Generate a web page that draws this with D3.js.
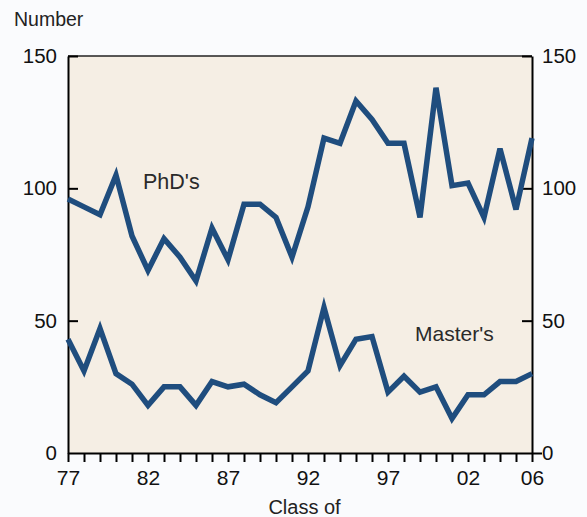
<!DOCTYPE html>
<html>
<head>
<meta charset="utf-8">
<script src="https://d3js.org/d3.v7.min.js"></script>
<style>
  body { margin: 0; background: #fafbfd; }
  text { font-family: "Liberation Sans", Arial, sans-serif; fill: #222; }
</style>
</head>
<body>
<div class="chart"></div>
<script>
// class years and counts
var years = [1977, 1978, 1979, 1980, 1981, 1982, 1983, 1984, 1985, 1986,
             1987, 1988, 1989, 1990, 1991, 1992, 1993, 1994, 1995, 1996,
             1997, 1998, 1999, 2000, 2001, 2002, 2003, 2004, 2005, 2006];
var phds = [96, 93, 90, 105, 82, 69, 81, 74, 65, 85,
            73, 94, 94, 89, 74, 93, 119, 117, 133, 126,
            117, 117, 89, 138, 101, 102, 89, 115, 92, 119];
var masters = [43, 31, 47, 30, 26, 18, 25, 25, 18, 27,
               25, 26, 22, 19, 25, 31, 55, 33, 43, 44,
               23, 29, 23, 25, 13, 22, 22, 27, 27, 30];
var yTicks = [0, 50, 100, 150];
var xLabelYears = [1977, 1982, 1987, 1992, 1997, 2002, 2006];

var width = 587;
var height = 517;
// plot box (window.top is reserved, so not "top")
var plotL = 68, plotR = 532, plotT = 56, plotB = 453;

var svg = d3.select('.chart').append('svg')
    .attr('width', width)
    .attr('height', height);

var x = d3.scaleLinear().domain([1977, 2006]).range([plotL, plotR]);
var y = d3.scaleLinear().domain([0, 150]).range([plotB, plotT]);

// plot background
svg.append('rect')
    .attr('x', plotL).attr('y', plotT)
    .attr('width', plotR - plotL).attr('height', plotB - plotT)
    .style('fill', '#f5eee4');

// top border
svg.append('line')
    .attr('x1', plotL).attr('x2', plotR)
    .attr('y1', plotT).attr('y2', plotT)
    .style('stroke', '#222').style('stroke-width', 1.5);

function styleAxis(g) {
  g.attr('font-family', null).attr('font-size', null);
  g.select('.domain').style('stroke', '#000').style('stroke-width', 2);
  g.selectAll('.tick line').style('stroke', '#000').style('stroke-width', 2);
  g.selectAll('.tick text')
      .style('font-size', '20.5px')
      .style('fill', '#111');
}

var leftAxis = svg.append('g')
    .attr('transform', 'translate(' + plotL + ',0)')
    .call(d3.axisLeft(y).tickValues(yTicks).tickSize(-10).tickSizeOuter(0).tickPadding(11));
styleAxis(leftAxis);
leftAxis.selectAll('.tick').filter(function (d) { return d === 0; }).select('line').remove();

var rightAxis = svg.append('g')
    .attr('transform', 'translate(' + plotR + ',0)')
    .call(d3.axisRight(y).tickValues(yTicks).tickSize(-10).tickSizeOuter(0).tickPadding(10));
styleAxis(rightAxis);
// the zero tick sticks out to the right
rightAxis.selectAll('.tick').filter(function (d) { return d === 0; }).select('line')
    .attr('x2', 10);

var bottomAxis = svg.append('g')
    .attr('transform', 'translate(0,' + plotB + ')')
    .call(d3.axisBottom(x).tickValues(years).tickSize(9).tickSizeOuter(0).tickPadding(8)
      .tickFormat(function (d) {
        return xLabelYears.indexOf(d) >= 0 ? String(d).slice(2) : '';
      }));
styleAxis(bottomAxis);
bottomAxis.selectAll('.tick text').style('font-size', '21px');

// the two series
var line = d3.line()
    .x(function (d, i) { return x(years[i]); })
    .y(function (d) { return y(d); });

[phds, masters].forEach(function (s) {
  svg.append('path')
      .datum(s)
      .attr('d', line)
      .style('fill', 'none')
      .style('stroke', '#1f4d7e')
      .style('stroke-width', 5.5)
      .style('stroke-linejoin', 'miter');
});

// labels
svg.append('text').attr('x', 14).attr('y', 26)
    .style('font-size', '19.5px').text('Number');
svg.append('text').attr('x', 143).attr('y', 189)
    .style('font-size', '21.5px').style('fill', '#2a2a2a').text("PhD's");
svg.append('text').attr('x', 415).attr('y', 341)
    .style('font-size', '21px').style('fill', '#2a2a2a').text("Master's");
svg.append('text').attr('x', 304.5).attr('y', 514)
    .attr('text-anchor', 'middle')
    .style('font-size', '20px').text('Class of');
</script>
</body>
</html>
